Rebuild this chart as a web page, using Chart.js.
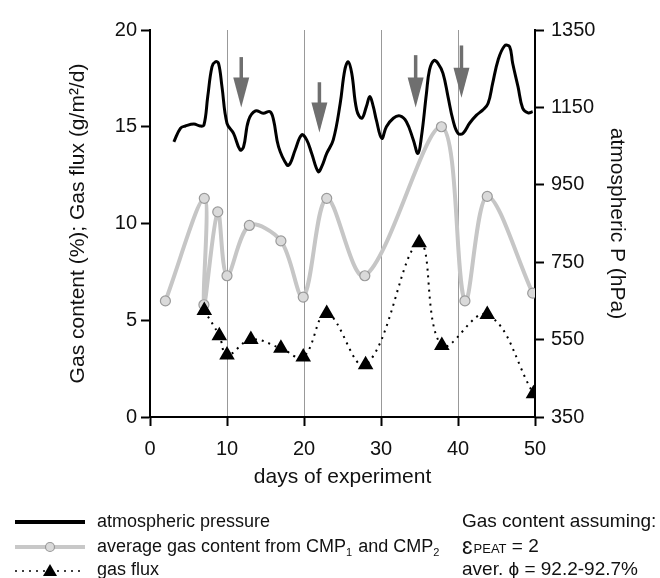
<!DOCTYPE html>
<html>
<head>
<meta charset="utf-8">
<script src="https://cdn.jsdelivr.net/npm/chart.js@4.4.0/dist/chart.umd.min.js"></script>
<style>
  html, body { margin: 0; padding: 0; background: #fff; }
  #wrap { width: 660px; height: 578px; }
</style>
</head>
<body>
<div id="wrap"><canvas id="gas-chart" width="660" height="578"></canvas></div>
<script>
// atmospheric pressure (hPa), right axis
var pressureDays = [3.1, 3.95, 4.6, 5.7, 6.5, 7.0, 7.5, 8.05, 8.5, 8.9, 9.35, 10.0, 10.85, 11.7, 12.15, 12.8, 13.7, 14.7, 15.6, 16.05,
  16.7, 17.8, 18.2, 18.85, 19.7, 20.35, 21.0, 21.85, 22.3, 22.95, 23.8, 24.7, 25.3, 25.75, 26.2, 26.85, 27.5, 28.1, 28.55, 29.0,
  29.4, 30.1, 30.7, 31.6, 32.45, 33.3, 34.2, 34.8, 35.25, 35.9, 36.3, 36.85, 37.4, 38.05, 38.7, 39.35, 40.0, 40.65, 41.5, 42.4,
  43.2, 43.9, 44.5, 45.2, 46.05, 46.7, 47.1, 47.8, 48.4, 49.1, 49.7];
var pressureValues = [1061, 1096, 1102, 1107, 1102, 1104, 1178, 1255, 1268, 1264, 1203, 1109, 1083, 1040, 1048, 1117, 1141, 1135, 1139, 1117,
  1048, 1001, 1005, 1040, 1079, 1066, 1031, 984, 997, 1031, 1066, 1160, 1247, 1268, 1238, 1143, 1122, 1152, 1178, 1152,
  1117, 1070, 1100, 1122, 1128, 1113, 1066, 1031, 1074, 1186, 1247, 1271, 1264, 1238, 1178, 1117, 1083, 1083, 1109, 1130,
  1143, 1160, 1212, 1272, 1309, 1307, 1264, 1203, 1148, 1136, 1139];

// average gas content (%), left axis
var gasDays = [2.0, 7.05, 7.0, 8.8, 10.0, 12.9, 17.0, 19.9, 22.95, 27.9, 37.85, 40.9, 43.8, 49.7];
var gasValues = [6.0, 11.3, 5.8, 10.6, 7.3, 9.9, 9.1, 6.2, 11.3, 7.3, 15.0, 6.0, 11.4, 6.4];

// gas flux (g/m2/d), left axis
var fluxDays = [7.05, 9.0, 10.0, 13.1, 17.0, 19.9, 22.95, 28.0, 34.95, 37.9, 43.8, 49.8];
var fluxValues = [5.5, 4.2, 3.2, 4.0, 3.55, 3.1, 5.35, 2.7, 9.0, 3.7, 5.3, 1.2];

// gray arrows (day, top and tip on left axis)
var arrowDays = [11.85, 22.0, 34.5, 40.45];
var arrowTop = [18.6, 17.3, 18.7, 19.2];
var arrowTip = [16.0, 14.7, 16.0, 16.5];

function pairs(xs, ys) {
  return xs.map(function (x, i) { return { x: x, y: ys[i] }; });
}

var FONT = '"Liberation Sans", Arial, sans-serif';

var arrowsAndLegend = {
  id: 'arrowsAndLegend',
  afterDatasetsDraw: function (chart) {
    var c = chart.ctx, x = chart.scales.x, y = chart.scales.y;
    c.save();
    c.fillStyle = '#6f6f6f';
    c.strokeStyle = '#6f6f6f';
    for (var i = 0; i < arrowDays.length; i++) {
      var px = x.getPixelForValue(arrowDays[i]);
      var top = y.getPixelForValue(arrowTop[i]);
      var tip = y.getPixelForValue(arrowTip[i]);
      c.lineWidth = 3.5;
      c.beginPath();
      c.moveTo(px, top);
      c.lineTo(px, tip - 28);
      c.stroke();
      c.beginPath();
      c.moveTo(px - 8, tip - 30);
      c.lineTo(px + 8, tip - 30);
      c.lineTo(px, tip);
      c.closePath();
      c.fill();
    }
    c.restore();
  },
  afterDraw: function (chart) {
    var c = chart.ctx;
    c.save();
    c.textBaseline = 'middle';
    c.fillStyle = '#111';
    c.font = '18px ' + FONT;

    // row 1
    c.strokeStyle = '#000';
    c.lineWidth = 4;
    c.beginPath(); c.moveTo(15, 522); c.lineTo(85, 522); c.stroke();
    c.fillText('atmospheric pressure', 97, 522);

    // row 2
    c.strokeStyle = '#c8c8c8';
    c.lineWidth = 4;
    c.beginPath(); c.moveTo(15, 547); c.lineTo(85, 547); c.stroke();
    c.fillStyle = '#dadada';
    c.strokeStyle = '#999';
    c.lineWidth = 1.2;
    c.beginPath(); c.arc(50, 547, 4.5, 0, Math.PI * 2); c.fill(); c.stroke();
    c.fillStyle = '#111';
    var tx = 97;
    var parts = [['average gas content from CMP', 18, 0], ['1', 11, 6], [' and CMP', 18, 0], ['2', 11, 6]];
    parts.forEach(function (p) {
      c.font = p[1] + 'px ' + FONT;
      c.fillText(p[0], tx, 547 + p[2]);
      tx += c.measureText(p[0]).width + (p[1] < 18 ? 1 : 0);
    });

    // row 3
    c.strokeStyle = '#000';
    c.lineWidth = 1.5;
    c.setLineDash([2, 5]);
    c.beginPath(); c.moveTo(15, 571); c.lineTo(85, 571); c.stroke();
    c.setLineDash([]);
    c.fillStyle = '#000';
    c.beginPath(); c.moveTo(50, 564); c.lineTo(57, 576); c.lineTo(43, 576); c.closePath(); c.fill();
    c.fillStyle = '#111';
    c.font = '18px ' + FONT;
    c.fillText('gas flux', 97, 570);

    // right block
    c.font = '19px ' + FONT;
    c.fillText('Gas content assuming:', 462, 522);
    c.font = '23px ' + FONT;
    c.fillText('\u025B', 462, 548);
    var ex = 462 + c.measureText('\u025B').width + 1;
    c.font = '13px ' + FONT;
    c.fillText('PEAT', ex, 549);
    ex += c.measureText('PEAT').width;
    c.font = '19px ' + FONT;
    c.fillText(' = 2', ex, 547);
    c.fillText('aver. \u03D5 = 92.2-92.7%', 462, 570);
    c.restore();
  }
};

new Chart(document.getElementById('gas-chart'), {
  type: 'line',
  data: {
    datasets: [{
      label: 'atmospheric pressure',
      data: pairs(pressureDays, pressureValues),
      yAxisID: 'y2',
      borderColor: '#000',
      borderWidth: 3,
      pointRadius: 0,
      tension: 0.4
    }, {
      label: 'gas flux',
      data: pairs(fluxDays, fluxValues),
      yAxisID: 'y',
      borderColor: '#000',
      borderWidth: 2,
      borderDash: [2, 5],
      pointStyle: 'triangle',
      pointRadius: 7,
      pointBackgroundColor: '#000',
      pointBorderColor: '#000',
      tension: 0.4
    }, {
      label: 'average gas content from CMP1 and CMP2',
      data: pairs(gasDays, gasValues),
      yAxisID: 'y',
      borderColor: '#c6c6c6',
      borderWidth: 4,
      pointRadius: 5,
      pointBackgroundColor: '#dadada',
      pointBorderColor: '#9a9a9a',
      pointBorderWidth: 1.2,
      tension: 0.33
    }]
  },
  options: {
    responsive: false,
    animation: false,
    layout: { padding: { left: 62, right: 27, top: 30, bottom: 88 } },
    plugins: { legend: { display: false }, tooltip: { enabled: false } },
    scales: {
      x: {
        type: 'linear',
        min: 0, max: 50,
        ticks: { stepSize: 10, color: '#111', font: { family: FONT, size: 20 }, padding: 11 },
        grid: {
          color: function (ctx) { return (ctx.tick && ctx.tick.value > 0 && ctx.tick.value < 50) ? '#999' : 'rgba(0,0,0,0)'; },
          tickColor: '#000',
          tickLength: 9,
          lineWidth: 1,
          tickWidth: 2
        },
        border: { display: true, color: '#000', width: 2 },
        title: { display: true, text: 'days of experiment', color: '#111', font: { family: FONT, size: 21 }, padding: { top: 0, bottom: 0 } },
        afterFit: function (s) { s.height = 73; }
      },
      y: {
        position: 'left',
        min: 0, max: 20,
        ticks: { stepSize: 5, color: '#111', font: { family: FONT, size: 20 }, padding: 4 },
        grid: { drawOnChartArea: false, tickColor: '#000', tickLength: 9, tickWidth: 2 },
        border: { display: true, color: '#000', width: 2 },
        title: { display: true, text: 'Gas content (%); Gas flux (g/m\u00B2/d)', color: '#111', font: { family: FONT, size: 21 }, padding: 4 },
        afterFit: function (s) { s.width = 88; }
      },
      y2: {
        position: 'right',
        min: 350, max: 1350,
        ticks: { stepSize: 200, color: '#111', font: { family: FONT, size: 20 }, padding: 7, callback: function (v) { return String(v); } },
        grid: { drawOnChartArea: false, tickColor: '#000', tickLength: 9, tickWidth: 2 },
        border: { display: true, color: '#000', width: 2 },
        title: { display: true, text: 'atmospheric P (hPa)', color: '#111', font: { family: FONT, size: 21 }, padding: 4 },
        afterFit: function (s) { s.width = 98; }
      }
    }
  },
  plugins: [arrowsAndLegend]
});
</script>
</body>
</html>
